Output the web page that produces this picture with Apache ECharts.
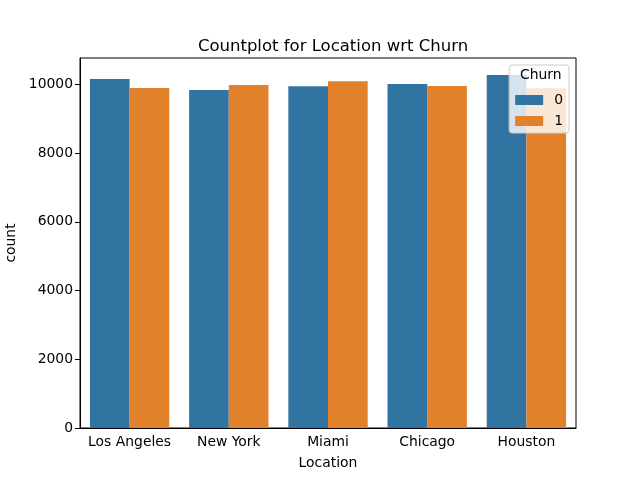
<!DOCTYPE html>
<html>
<head>
<meta charset="utf-8">
<script src="https://cdn.jsdelivr.net/npm/echarts@6/dist/echarts.min.js"></script>
<style>
  html, body { margin: 0; padding: 0; background: #fff; }
  #chart-container { width: 640px; height: 480px; }
</style>
</head>
<body>
<div id="chart-container"></div>
<script>
const locations = ['Los Angeles', 'New York', 'Miami', 'Chicago', 'Houston'];
const churn0 = [10150, 9834, 9940, 10009, 10270];
const churn1 = [9891, 9979, 10091, 9949, 9887];
const yTicks = [0, 2000, 4000, 6000, 8000, 10000];

var dom = document.getElementById('chart-container');
var myChart = echarts.init(dom, null, { renderer: 'canvas' });
const font = 'DejaVu Sans';

var option = {
  animation: false,
  title: {
    text: 'Countplot for Location wrt Churn',
    left: 328, top: 33, textAlign: 'center',
    textStyle: { fontFamily: font, fontSize: 16.5, fontWeight: 'normal', color: '#000' }
  },
  grid: {
    left: 80, right: 64, top: 58, bottom: 52,
    outerBoundsMode: 'none', containLabel: false,
    show: true, borderColor: '#000', borderWidth: 1, backgroundColor: 'transparent'
  },
  legend: {
    orient: 'vertical', right: 71, top: 65,
    padding: [28, 6, 5, 6],
    itemWidth: 28, itemHeight: 10, itemGap: 7,
    backgroundColor: 'rgba(255,255,255,0.8)',
    borderColor: '#cccccc', borderWidth: 1, borderRadius: 3,
    textStyle: { fontFamily: font, fontSize: 13.9, color: '#000', padding: [0, 0, 0, 6] },
    icon: 'rect',
    data: ['0', '1']
  },
  graphic: [{
    type: 'text', left: 520, top: 68, z: 100,
    style: { text: 'Churn', fontFamily: font, fontSize: 13.9, fill: '#000' }
  }],
  xAxis: {
    type: 'category', data: locations,
    name: 'Location', nameLocation: 'middle', nameGap: 28,
    nameTextStyle: { fontFamily: font, fontSize: 13.9, color: '#000' },
    axisLine: { lineStyle: { color: '#000' } },
    axisTick: { alignWithLabel: true, length: 5, lineStyle: { color: '#000' } },
    axisLabel: { interval: 0, fontFamily: font, fontSize: 13.9, color: '#000', margin: 7 }
  },
  yAxis: {
    type: 'value', min: 0, max: 10764, interval: 2000,
    name: 'count', nameLocation: 'middle', nameGap: 56,
    nameTextStyle: { fontFamily: font, fontSize: 13.9, color: '#000' },
    axisLine: { show: true, lineStyle: { color: '#000' } },
    axisTick: { show: true, length: 5, lineStyle: { color: '#000' } },
    axisLabel: {
      fontFamily: font, fontSize: 13.9, color: '#000', margin: 7, showMaxLabel: false,
      formatter: v => (yTicks.includes(v) ? String(v) : '')
    },
    splitLine: { show: false }
  },
  series: [
    { name: '0', type: 'bar', data: churn0, barGap: '0%', barCategoryGap: '20%',
      itemStyle: { color: '#3274a1' } },
    { name: '1', type: 'bar', data: churn1,
      itemStyle: { color: '#e1812c' } }
  ]
};

myChart.setOption(option);
window.addEventListener('resize', myChart.resize);
</script>
</body>
</html>
